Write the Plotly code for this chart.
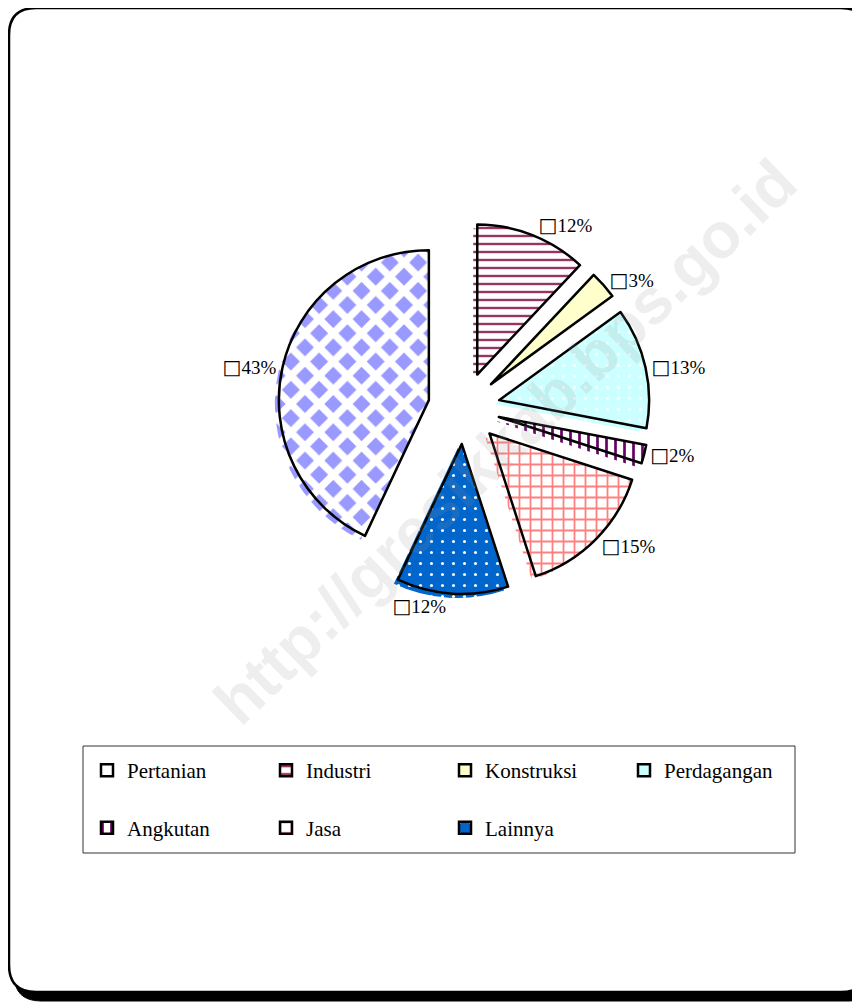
import plotly.graph_objects as go

# page body has an 8px margin, so the figure is drawn at (8,8)
OFF = 8
W, H = 860 - OFF, 1002 - OFF

# ---- data ----
labels = ["Pertanian", "Industri", "Konstruksi", "Perdagangan", "Angkutan", "Jasa", "Lainnya"]
values = [43, 12, 3, 13, 2, 15, 12]

# ---- styles ----
bg_colors = ["#9999FF", "#FFFFFF", "#FFFFCC", "#CCFFFF", "#FFFFFF", "#FFFFFF", "#0066CC"]
fg_colors = ["#FFFFFF", "#993366", "#FFFFCC", "#FFFFFF", "#660066", "#FF8080", "#FFFFFF"]
shapes_pat = ["x", "-", "", ".", "|", "+", "."]
sizes_pat = [20, 8, 8, 11, 9, 11, 11]
solid_pat = [0.6, 0.3, 0.3, 0.05, 0.3, 0.3, 0.06]

# legend rows in the reference are widely spaced: add a blank line to first-row names
legend_names = [n + "<br> " if i < 4 else n for i, n in enumerate(labels)]

start_share = values[0] / sum(values)
rotation = 360 - start_share * 360


def fx(x):
    return (x - OFF) / W


def fy(y):
    return 1 - (y - OFF) / H


cx, cy, half = 464, 408, 186
dom_x = [fx(cx - half), fx(cx + half)]
dom_y = [fy(cy + half), fy(cy - half)]
sh = 4
dom_x_s = [fx(cx - half - sh), fx(cx + half - sh)]
dom_y_s = [fy(cy + half + sh), fy(cy - half + sh)]

pull = [0.24] * len(values)
serif = "Liberation Serif, Times New Roman, serif"

fig = go.Figure()

# shadow pie
fig.add_trace(go.Pie(
    labels=legend_names, values=values, sort=False, direction="clockwise",
    rotation=rotation, pull=pull, domain=dict(x=dom_x_s, y=dom_y_s),
    textinfo="none", showlegend=False, hoverinfo="skip",
    marker=dict(colors=bg_colors, line=dict(width=0),
                pattern=dict(shape=shapes_pat, fgcolor=fg_colors, bgcolor=bg_colors,
                             size=sizes_pat, solidity=solid_pat, fillmode="replace")),
))

# main pie
fig.add_trace(go.Pie(
    labels=legend_names, values=values, sort=False, direction="clockwise",
    rotation=rotation, pull=pull, domain=dict(x=dom_x, y=dom_y),
    texttemplate="<span style='font-family:DejaVu Sans;font-size:20px;color:black'>□</span>%{percent:.0%}",
    textposition="outside",
    outsidetextfont=dict(family=serif, size=19, color="black"),
    marker=dict(colors=bg_colors, line=dict(color="black", width=2.5),
                pattern=dict(shape=shapes_pat, fgcolor=fg_colors, bgcolor=bg_colors,
                             size=sizes_pat, solidity=solid_pat, fillmode="replace")),
))


def rrect(x0, y0, x1, y1, r):
    X0, X1 = fx(x0), fx(x1)
    Y0, Y1 = fy(y0), fy(y1)
    rx, ry = r / W, r / H
    return (f"M {X0+rx},{Y0} L {X1-rx},{Y0} Q {X1},{Y0} {X1},{Y0-ry} "
            f"L {X1},{Y1+ry} Q {X1},{Y1} {X1-rx},{Y1} L {X0+rx},{Y1} "
            f"Q {X0},{Y1} {X0},{Y1+ry} L {X0},{Y0-ry} Q {X0},{Y0} {X0+rx},{Y0} Z")


shapes = [
    dict(type="path", xref="paper", yref="paper", layer="below",
         path=rrect(14, 14, 876, 1001, 27), fillcolor="black", line=dict(color="black", width=1)),
    dict(type="path", xref="paper", yref="paper", layer="below",
         path=rrect(9, 8, 868, 992, 27), fillcolor="white", line=dict(color="black", width=2.5)),
    # legend frame
    dict(type="rect", xref="paper", yref="paper", layer="below",
         x0=fx(83), x1=fx(795), y0=fy(746), y1=fy(853),
         fillcolor="rgba(0,0,0,0)", line=dict(color="#333333", width=1)),
]

fig.update_layout(
    width=W, height=H,
    margin=dict(l=0, r=0, t=0, b=0),
    paper_bgcolor="white", plot_bgcolor="white",
    shapes=shapes,
    font=dict(family=serif, color="black"),
    legend=dict(
        orientation="h", x=fx(87), y=fy(750), xanchor="left", yanchor="top",
        borderwidth=0, bgcolor="rgba(0,0,0,0)",
        font=dict(family=serif, size=21, color="black"),
        entrywidth=134, entrywidthmode="pixels", itemwidth=30,
        traceorder="normal", valign="top",
    ),
    annotations=[dict(
        text="<b>http://gresikkab.bps.go.id</b>", x=fx(505), y=fy(442),
        xref="paper", yref="paper", showarrow=False, textangle=-44,
        font=dict(family="Liberation Sans, Arial, sans-serif", size=64,
                  color="rgba(150,150,150,0.16)"),
    )],
)

fig.write_html("out.html")
